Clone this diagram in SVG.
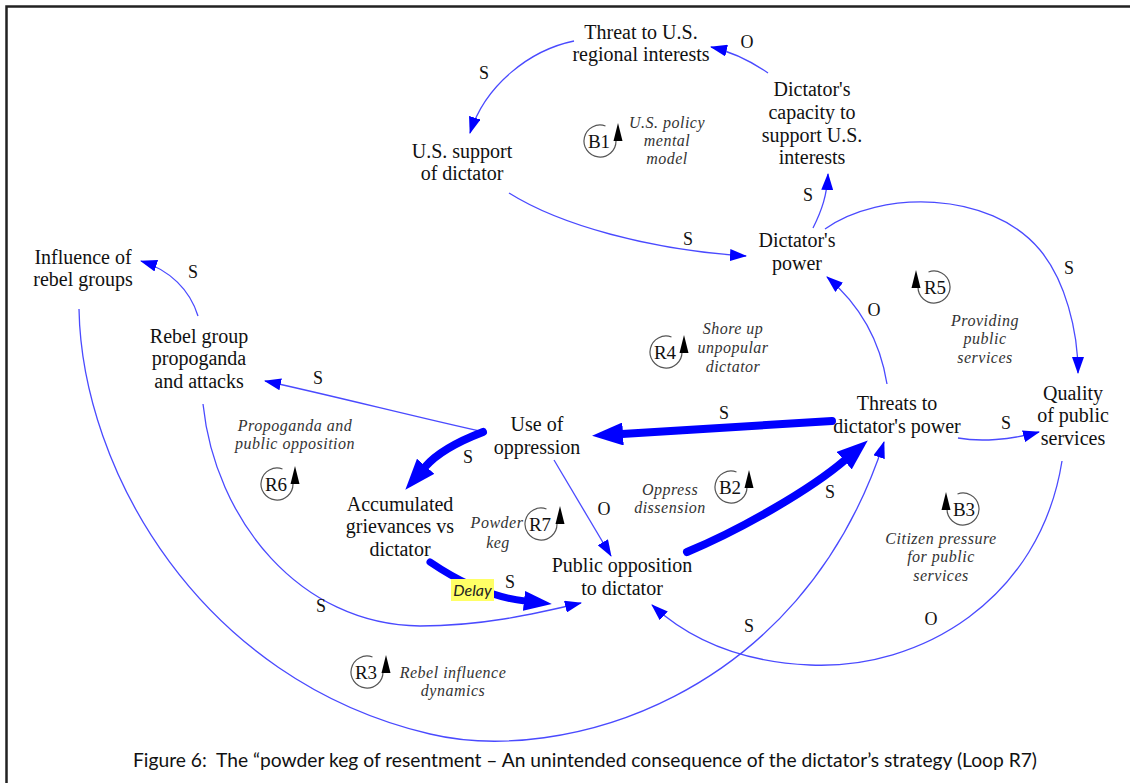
<svg xmlns="http://www.w3.org/2000/svg" width="1130" height="783" viewBox="0 0 1130 783">
  <style>
    .nd { font-family: "Liberation Serif", "Times New Roman", serif; font-size: 20px; fill: #111; text-anchor: middle; }
    .pl { font-family: "Liberation Serif", "Times New Roman", serif; font-size: 18px; fill: #111; text-anchor: middle; }
    .lp { font-family: "Liberation Serif", "Times New Roman", serif; font-size: 19px; fill: #111; text-anchor: middle; }
    .it { font-family: "Liberation Serif", "Times New Roman", serif; font-size: 16px; font-style: italic; fill: #333; text-anchor: middle; letter-spacing: 0.5px; }
    .thin { fill: none; stroke: #4a4aff; stroke-width: 1.3; marker-end: url(#ah); }
    .thick { fill: none; stroke: #0000ff; stroke-width: 8; stroke-linecap: round; marker-end: url(#ahb); }
    .ring { fill: none; stroke: #555; stroke-width: 1.2; }
    .tri { fill: #000; }
    .cap { font-family: Lato, "Open Sans", "Liberation Sans", sans-serif; font-size: 19px; fill: #111; }
  </style>
  <defs>
    <marker id="ah" markerUnits="userSpaceOnUse" markerWidth="17" markerHeight="12" refX="16" refY="6" orient="auto">
      <path d="M0,0 L17,6 L0,12 z" fill="#0000ff"/>
    </marker>
    <marker id="ahb" markerUnits="userSpaceOnUse" markerWidth="31" markerHeight="23" refX="1" refY="11.5" orient="auto">
      <path d="M0,0 L31,11.5 L0,23 z" fill="#0000ff"/>
    </marker>
    <marker id="ahm" markerUnits="userSpaceOnUse" markerWidth="28" markerHeight="20" refX="1" refY="10" orient="auto">
      <path d="M0,0 L28,10 L0,20 z" fill="#0000ff"/>
    </marker>
  </defs>

  <rect width="1130" height="783" fill="#fff"/>
  <!-- frame -->
  <path d="M6.5,783 V6.5 H1130" fill="none" stroke="#222" stroke-width="2.5"/>

  <g id="connectors">
    <!-- thin links -->
    <path class="thin" d="M574,41 C530,50 485,85 470,133"/>
    <path class="thin" d="M768,73 C752,62 733,52 711,47"/>
    <path class="thin" d="M813,228 C822,210 827,195 828,174"/>
    <path class="thin" d="M509,193 C560,225 650,250 746,256"/>
    <path class="thin" d="M825,229 C880,190 990,190 1040,250 C1065,280 1078,330 1078,373"/>
    <path class="thin" d="M887,384 C880,340 860,305 827,277"/>
    <path class="thin" d="M958,438 C980,442 1010,440 1039,432"/>
    <path class="thin" d="M484,432 C420,418 330,395 265,381"/>
    <path class="thin" d="M198,316 C190,290 170,270 141,261"/>
    <path class="thin" d="M554,460 L611,556"/>
    <path class="thin" d="M203,404 C215,520 300,625 420,626 C480,626 530,615 581,603"/>
    <path class="thin" d="M79,309 C82,470 200,680 430,734 C560,765 800,700 884,442"/>
    <path class="thin" d="M1062,461 C1040,600 920,670 810,665 C740,662 690,640 652,605"/>
    <!-- heavy links -->
    <path class="thick" d="M832,421 L622,434"/>
    <path class="thick" d="M483,432 C462,440 438,452 425,467"/>
    <path class="thick" d="M687,552 C740,530 810,490 845,460"/>
    <path class="thick" style="stroke-width:7;marker-end:url(#ahm)" d="M430,562 Q480,596 525,601"/>
    <!-- delay tag -->
    <rect x="451" y="579" width="43" height="22" fill="#ffff66"/>
    <text x="472.5" y="596" style="font-family:Lato,'Open Sans','Liberation Sans',sans-serif;font-size:16px;font-style:italic;fill:#222;text-anchor:middle">Delay</text>
    <!-- polarities -->
    <text class="pl" x="484" y="79">S</text>
    <text class="pl" x="747" y="48">O</text>
    <text class="pl" x="808" y="201">S</text>
    <text class="pl" x="688" y="245">S</text>
    <text class="pl" x="1069" y="274">S</text>
    <text class="pl" x="874" y="316">O</text>
    <text class="pl" x="1006" y="429">S</text>
    <text class="pl" x="724" y="419">S</text>
    <text class="pl" x="318" y="384">S</text>
    <text class="pl" x="193" y="278">S</text>
    <text class="pl" x="468" y="463">S</text>
    <text class="pl" x="604" y="515">O</text>
    <text class="pl" x="510" y="588">S</text>
    <text class="pl" x="830" y="498">S</text>
    <text class="pl" x="321" y="612">S</text>
    <text class="pl" x="749" y="632">S</text>
    <text class="pl" x="931" y="625">O</text>
  </g>

  <g id="n-threat-us">
    <text class="nd" x="641" y="39">Threat to U.S.</text>
    <text class="nd" x="641" y="61">regional interests</text>
  </g>
  <g id="n-capacity">
    <text class="nd" x="812" y="96">Dictator's</text>
    <text class="nd" x="812" y="119">capacity to</text>
    <text class="nd" x="812" y="142">support U.S.</text>
    <text class="nd" x="812" y="164">interests</text>
  </g>
  <g id="n-us-support">
    <text class="nd" x="462" y="158">U.S. support</text>
    <text class="nd" x="462" y="180">of dictator</text>
  </g>
  <g id="n-power">
    <text class="nd" x="797" y="247">Dictator's</text>
    <text class="nd" x="797" y="270">power</text>
  </g>
  <g id="n-influence">
    <text class="nd" x="83" y="264">Influence of</text>
    <text class="nd" x="83" y="286">rebel groups</text>
  </g>
  <g id="n-rebel-propaganda">
    <text class="nd" x="199" y="343">Rebel group</text>
    <text class="nd" x="199" y="365">propoganda</text>
    <text class="nd" x="199" y="388">and attacks</text>
  </g>
  <g id="n-oppression">
    <text class="nd" x="537" y="431">Use of</text>
    <text class="nd" x="537" y="454">oppression</text>
  </g>
  <g id="n-threats">
    <text class="nd" x="897" y="410">Threats to</text>
    <text class="nd" x="897" y="433">dictator's power</text>
  </g>
  <g id="n-quality">
    <text class="nd" x="1073" y="400">Quality</text>
    <text class="nd" x="1073" y="422">of public</text>
    <text class="nd" x="1073" y="445">services</text>
  </g>
  <g id="n-grievances">
    <text class="nd" x="400" y="511">Accumulated</text>
    <text class="nd" x="400" y="533">grievances vs</text>
    <text class="nd" x="400" y="556">dictator</text>
  </g>
  <g id="n-opposition">
    <text class="nd" x="622" y="572">Public opposition</text>
    <text class="nd" x="622" y="595">to dictator</text>
  </g>

  <!-- loop markers -->
  <g id="loop-b1">
    <path class="ring" d="M616,141 A16,16 0 1 1 605.5,126"/>
    <polygon class="tri" points="618,123 613.5,141 622.5,141"/>
    <text class="lp" x="599" y="148">B1</text>
    <text class="it" x="667" y="128">U.S. policy</text>
    <text class="it" x="667" y="146">mental</text>
    <text class="it" x="667" y="164">model</text>
  </g>
  <g id="loop-r4">
    <path class="ring" d="M682,352 A16,16 0 1 1 671.5,337"/>
    <polygon class="tri" points="684,335 679.5,353 688.5,353"/>
    <text class="lp" x="665" y="359">R4</text>
    <text class="it" x="733" y="334">Shore up</text>
    <text class="it" x="733" y="353">unpopular</text>
    <text class="it" x="733" y="372">dictator</text>
  </g>
  <g id="loop-r5">
    <path class="ring" d="M918,287 A16,16 0 1 0 928.5,272"/>
    <polygon class="tri" points="916,270 911.5,288 920.5,288"/>
    <text class="lp" x="935" y="294">R5</text>
    <text class="it" x="985" y="326">Providing</text>
    <text class="it" x="985" y="344">public</text>
    <text class="it" x="985" y="363">services</text>
  </g>
  <g id="loop-b2">
    <path class="ring" d="M747,487 A16,16 0 1 1 736.5,472"/>
    <polygon class="tri" points="749,470 744.5,488 753.5,488"/>
    <text class="lp" x="730" y="494">B2</text>
    <text class="it" x="670" y="495">Oppress</text>
    <text class="it" x="670" y="513">dissension</text>
  </g>
  <g id="loop-b3">
    <path class="ring" d="M947,509 A16,16 0 1 0 957.5,494"/>
    <polygon class="tri" points="946,492 941.5,510 950.5,510"/>
    <text class="lp" x="964" y="516">B3</text>
    <text class="it" x="941" y="544">Citizen pressure</text>
    <text class="it" x="941" y="562">for public</text>
    <text class="it" x="941" y="581">services</text>
  </g>
  <g id="loop-r6">
    <path class="ring" d="M293,484 A16,16 0 1 1 282.5,469"/>
    <polygon class="tri" points="295,466 290.5,484 299.5,484"/>
    <text class="lp" x="276" y="491">R6</text>
    <text class="it" x="295" y="431">Propoganda and</text>
    <text class="it" x="295" y="449">public opposition</text>
  </g>
  <g id="loop-r7">
    <path class="ring" d="M557,524 A16,16 0 1 1 546.5,509"/>
    <polygon class="tri" points="560,506 555.5,524 564.5,524"/>
    <text class="lp" x="540" y="531">R7</text>
    <text class="it" x="497" y="528">Powder</text>
    <text class="it" x="498" y="548">keg</text>
  </g>
  <g id="loop-r3">
    <path class="ring" d="M383,672 A16,16 0 1 1 372.5,657"/>
    <polygon class="tri" points="386,655 381.5,673 390.5,673"/>
    <text class="lp" x="366" y="679">R3</text>
    <text class="it" x="453" y="678">Rebel influence</text>
    <text class="it" x="453" y="696">dynamics</text>
  </g>

  <g id="caption">
    <text class="cap" x="133" y="767" xml:space="preserve" textLength="904" lengthAdjust="spacingAndGlyphs">Figure 6:  The “powder keg of resentment – An unintended consequence of the dictator’s strategy (Loop R7)</text>
  </g>
</svg>
